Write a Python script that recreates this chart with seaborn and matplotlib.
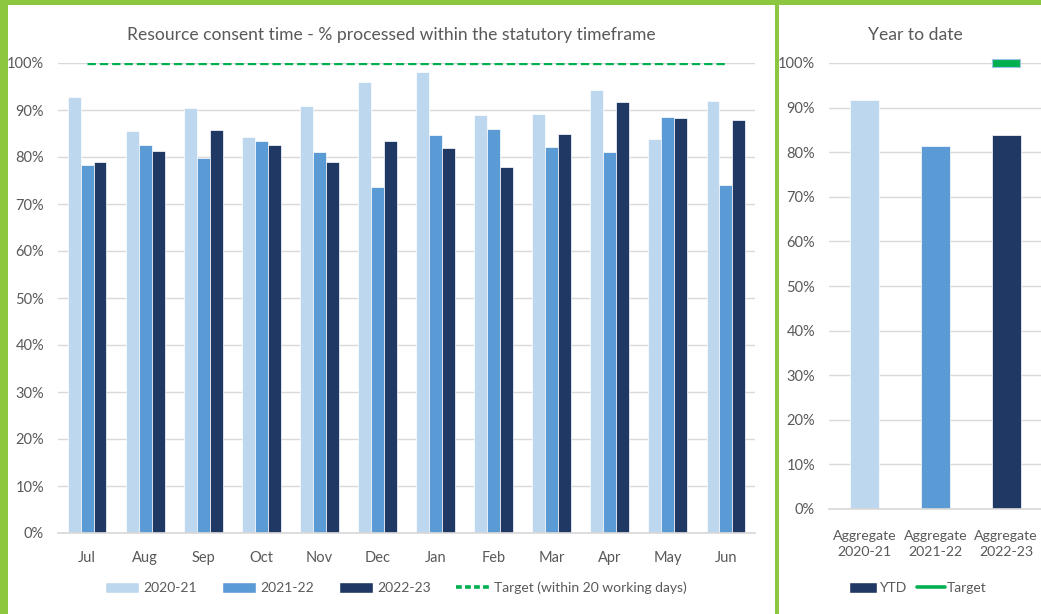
import matplotlib
matplotlib.use("Agg")
import matplotlib.pyplot as plt
import matplotlib.patches as mpatches
import matplotlib.lines as mlines
import seaborn as sns
import pandas as pd

# ---------------- data ----------------
months = ["Jul", "Aug", "Sep", "Oct", "Nov", "Dec", "Jan", "Feb", "Mar", "Apr", "May", "Jun"]
years = ["2020-21", "2021-22", "2022-23"]
pct_2020_21 = [92.7, 85.5, 90.4, 84.2, 90.9, 95.9, 98.0, 88.9, 89.1, 94.3, 83.8, 91.9]
pct_2021_22 = [78.4, 82.6, 79.8, 83.3, 81.0, 73.6, 84.6, 85.9, 82.2, 81.1, 88.6, 74.0]
pct_2022_23 = [78.9, 81.3, 85.8, 82.5, 78.9, 83.3, 82.0, 77.9, 85.0, 91.6, 88.4, 87.8]
target_monthly = [100, 100, 100, 100, 100, 100, 100, 100, 100, 100, 100, 100]

ytd_labels = ["Aggregate\n2020-21", "Aggregate\n2021-22", "Aggregate\n2022-23"]
ytd_values = [91.7, 81.4, 83.8]
ytd_target = 100
y_ticks = [0, 10, 20, 30, 40, 50, 60, 70, 80, 90, 100]
y_ticklabels = [f"{t}%" for t in y_ticks]

# ---------------- style ----------------
c_light = "#BDD7EE"
c_mid = "#5B9BD5"
c_dark = "#203864"
c_target = "#00B050"
c_frame = "#8DC63F"
c_text = "#595959"
c_grid = "#D9D9D9"

sns.set_theme(style="white")
plt.rcParams["font.family"] = ["Lato", "DejaVu Sans"]
plt.rcParams["text.color"] = c_text

W, H = 1041, 614
fig = plt.figure(figsize=(W / 100, H / 100), dpi=100)
fig.patch.set_facecolor("white")

def ax_rect(x0, y_top, x1, y_bot):
    return [x0 / W, 1 - y_bot / H, (x1 - x0) / W, (y_bot - y_top) / H]

# ---------------- left panel ----------------
ax = fig.add_axes(ax_rect(58, 63, 755, 533))
df = pd.DataFrame({
    "month": months * 3,
    "year": [years[0]] * 12 + [years[1]] * 12 + [years[2]] * 12,
    "value": pct_2020_21 + pct_2021_22 + pct_2022_23,
})
sns.barplot(data=df, x="month", y="value", hue="year", order=months, hue_order=years,
            palette=[c_light, c_mid, c_dark], width=0.67, gap=0, ax=ax,
            edgecolor="white", linewidth=0.5, legend=False, saturation=1)
ax.plot(range(len(months)), target_monthly, color=c_target, lw=2.4,
        linestyle=(0, (2.5, 1.2)), zorder=5)
ax.set_ylim(0, 100)
ax.set_xlim(-0.5, len(months) - 0.5)
ax.set_yticks(y_ticks)
ax.set_yticklabels(y_ticklabels)
ax.set_xlabel("")
ax.set_ylabel("")
ax.grid(axis="y", color=c_grid, lw=1)
ax.set_axisbelow(True)
for s in ["top", "right", "left"]:
    ax.spines[s].set_visible(False)
ax.spines["bottom"].set_color(c_grid)
ax.tick_params(axis="both", length=0, colors=c_text, labelsize=10.5)
ax.tick_params(axis="y", pad=10)
ax.tick_params(axis="x", pad=13)

fig.text(391 / W, 1 - 35 / H, "Resource consent time - % processed within the statutory timeframe",
         ha="center", va="center", fontsize=12.6, color=c_text)

h_left = [mpatches.Patch(facecolor=c_light, label=years[0]),
          mpatches.Patch(facecolor=c_mid, label=years[1]),
          mpatches.Patch(facecolor=c_dark, label=years[2]),
          mlines.Line2D([], [], color=c_target, lw=2.6, linestyle=(0, (1.6, 0.9)),
                        label="Target (within 20 working days)")]
fig.legend(handles=h_left, loc="center", bbox_to_anchor=(396 / W, 1 - 588 / H), ncol=4,
           frameon=False, fontsize=10, handlelength=2.45, handleheight=0.8,
           handletextpad=0.3, columnspacing=1.8, labelcolor=c_text)

# ---------------- right panel ----------------
ax2 = fig.add_axes(ax_rect(829, 63, 1041, 509))
df2 = pd.DataFrame({"label": ytd_labels, "value": ytd_values})
sns.barplot(data=df2, x="label", y="value", hue="label", palette=[c_light, c_mid, c_dark],
            width=0.41, ax=ax2, legend=False, saturation=1, edgecolor="white", linewidth=0.5)
rect_marker = [(-1.75, -0.5), (1.75, -0.5), (1.75, 0.5), (-1.75, 0.5), (-1.75, -0.5)]
ax2.plot([2], [ytd_target], linestyle="none", marker=rect_marker, markersize=20,
         markerfacecolor=c_target, markeredgecolor="#9DC3E6", markeredgewidth=0.8,
         zorder=6, clip_on=False)
ax2.set_ylim(0, 100)
ax2.set_xlim(-0.5, 2.49)
ax2.set_yticks(y_ticks)
ax2.set_yticklabels(y_ticklabels)
ax2.set_xlabel("")
ax2.set_ylabel("")
ax2.grid(axis="y", color=c_grid, lw=1)
ax2.set_axisbelow(True)
for s in ["top", "right", "left"]:
    ax2.spines[s].set_visible(False)
ax2.spines["bottom"].set_color(c_grid)
ax2.tick_params(axis="both", length=0, colors=c_text, labelsize=10.5)
ax2.tick_params(axis="y", pad=10)
ax2.tick_params(axis="x", pad=15)
for lbl in ax2.get_xticklabels():
    lbl.set_linespacing(1.45)
    lbl.set_fontsize(10.2)

fig.text(915 / W, 1 - 35 / H, "Year to date", ha="center", va="center", fontsize=12.6, color=c_text)

h_right = [mpatches.Patch(facecolor=c_dark, label="YTD"),
           mlines.Line2D([], [], color=c_target, lw=2.6, label="Target")]
fig.legend(handles=h_right, loc="center", bbox_to_anchor=(918 / W, 1 - 588 / H), ncol=2,
           frameon=False, fontsize=10, handlelength=2.0, handleheight=0.8,
           handletextpad=0.15, columnspacing=0.8, labelcolor=c_text)

# ---------------- green frame ----------------
fig.patches.append(mpatches.Rectangle((0, 0), 8 / W, 1, transform=fig.transFigure,
                                      facecolor=c_frame, edgecolor="none", zorder=10))
fig.patches.append(mpatches.Rectangle((0, 1 - 5 / H), 1, 5 / H, transform=fig.transFigure,
                                      facecolor=c_frame, edgecolor="none", zorder=10))
fig.patches.append(mpatches.Rectangle((775 / W, 0), 3.5 / W, 1, transform=fig.transFigure,
                                      facecolor=c_frame, edgecolor="none", zorder=10))

fig.savefig("out.png", dpi=100, facecolor="white")
